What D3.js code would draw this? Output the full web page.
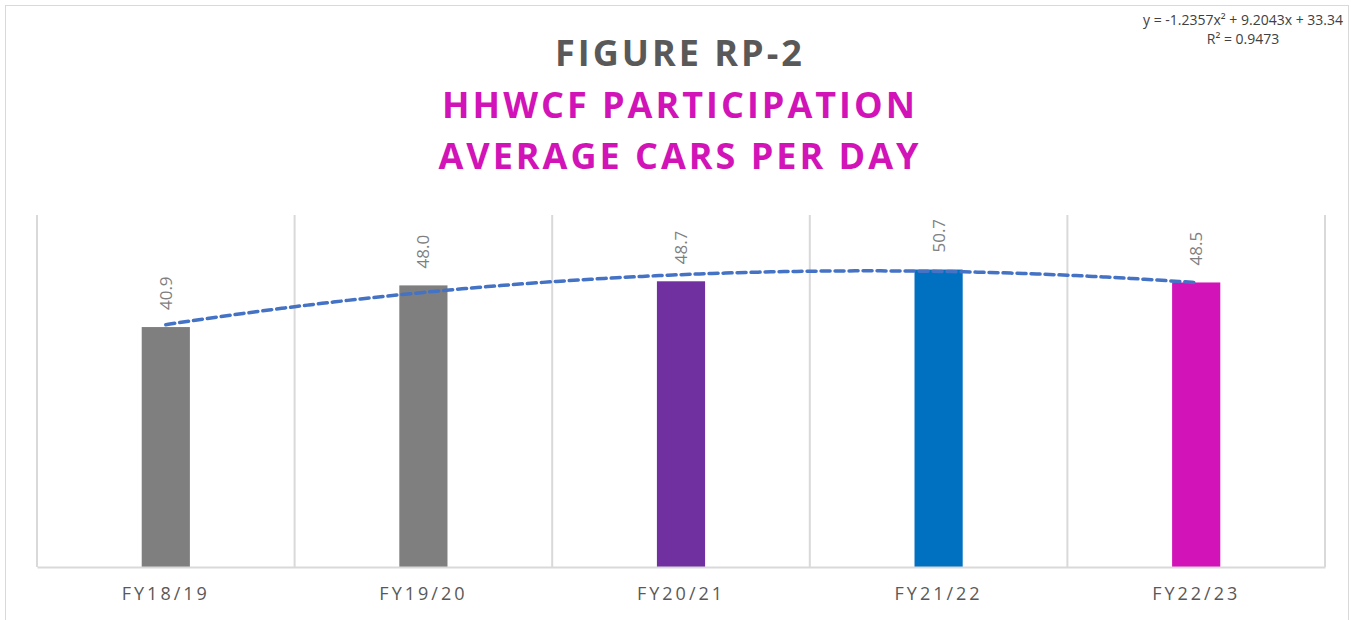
<!DOCTYPE html>
<html>
<head>
<meta charset="utf-8">
<script src="https://cdn.jsdelivr.net/npm/d3@7"></script>
<style>
  body { margin: 0; background: #fff; }
  svg { display: block; font-family: "Open Sans", "Liberation Sans", sans-serif; }
</style>
</head>
<body>
<svg id="chart" width="1354" height="620"></svg>
<script>
const categories = ["FY18/19", "FY19/20", "FY20/21", "FY21/22", "FY22/23"];
const values = [40.9, 48.0, 48.7, 50.7, 48.5];
const barColors = ["#7f7f7f", "#7f7f7f", "#7030a0", "#0070c0", "#d113b7"];
// polynomial trendline coefficients shown on the chart (a x^2 + b x + c)
const trendCoef = [-1.2357, 9.2043, 33.34];
const trendLabels = ["y = -1.2357x\u00b2 + 9.2043x + 33.34", "R\u00b2 = 0.9473"];
const titleLines = ["FIGURE RP-2", "HHWCF PARTICIPATION", "AVERAGE CARS PER DAY"];

const width = 1354, height = 620;
const margin = {top: 215, right: 29, bottom: 53, left: 37};

const svg = d3.select("#chart");

// outer frame
svg.append("rect")
  .attr("x", 5.5).attr("y", 5.5)
  .attr("width", width - 11).attr("height", height + 10)
  .attr("fill", "none").attr("stroke", "#d9d9d9").attr("stroke-width", 1);

const x = d3.scaleBand()
  .domain(categories)
  .range([margin.left, width - margin.right])
  .paddingInner(0).paddingOuter(0);

const y = d3.scaleLinear()
  .domain([0, 60])
  .range([height - margin.bottom, margin.top]);

// vertical category gridlines
const edges = categories.map(c => x(c)).concat([x.range()[1]]);
svg.append("g")
  .selectAll("line")
  .data(edges)
  .join("line")
  .attr("x1", d => d).attr("x2", d => d)
  .attr("y1", y(60)).attr("y2", y(0))
  .attr("stroke", "#d9d9d9").attr("stroke-width", 2);

// bars
const barW = x.bandwidth() * 0.187;
svg.append("g")
  .selectAll("rect")
  .data(values)
  .join("rect")
  .attr("x", (d, i) => x(categories[i]) + x.bandwidth() / 2 - barW / 2)
  .attr("y", d => y(d))
  .attr("width", barW)
  .attr("height", d => y(0) - y(d))
  .attr("fill", (d, i) => barColors[i]);

// x axis
const xAxis = svg.append("g")
  .attr("transform", `translate(0,${y(0)})`)
  .call(d3.axisBottom(x).tickSize(0).tickPadding(20));
xAxis.select(".domain").attr("stroke", "#d9d9d9").attr("stroke-width", 2);
xAxis.selectAll(".tick text")
  .attr("font-size", 18)
  .attr("font-family", "'Open Sans', sans-serif")
  .attr("letter-spacing", "3px")
  .attr("fill", "#595959");

// trendline
const xi = d3.scaleLinear().domain([1, categories.length])
  .range([x(categories[0]) + x.bandwidth() / 2, x(categories[categories.length - 1]) + x.bandwidth() / 2]);
const steps = d3.range(1, categories.length + 0.001, 0.05);
const line = d3.line()
  .x(t => xi(t))
  .y(t => y(trendCoef[0] * t * t + trendCoef[1] * t + trendCoef[2]))
  .curve(d3.curveMonotoneX);
svg.append("path")
  .datum(steps)
  .attr("fill", "none")
  .attr("stroke", "#4472c4")
  .attr("stroke-width", 3.5)
  .attr("stroke-dasharray", "9,5")
  .attr("stroke-linecap", "round")
  .attr("d", line);

// data labels (rotated)
svg.append("g")
  .selectAll("text")
  .data(values)
  .join("text")
  .attr("transform", (d, i) => `translate(${x(categories[i]) + x.bandwidth() / 2 + 6},${y(d) - 17}) rotate(-90)`)
  .attr("font-size", 17)
  .attr("fill", "#7f7f7f")
  .text(d => d.toFixed(1));

// title
const titleColors = ["#595959", "#d113b7", "#d113b7"];
const titleY = [66, 118, 169];
svg.append("g")
  .selectAll("text")
  .data(titleLines)
  .join("text")
  .attr("x", 680)
  .attr("y", (d, i) => titleY[i])
  .attr("text-anchor", "middle")
  .attr("font-size", 36)
  .attr("font-weight", "bold")
  .attr("letter-spacing", "3px")
  .attr("fill", (d, i) => titleColors[i])
  .text(d => d);

// trendline equation
svg.append("g")
  .selectAll("text")
  .data(trendLabels)
  .join("text")
  .attr("x", 1243)
  .attr("y", (d, i) => 25 + i * 19)
  .attr("text-anchor", "middle")
  .attr("font-size", 14)
  .attr("fill", "#404040")
  .text(d => d);
</script>
</body>
</html>
